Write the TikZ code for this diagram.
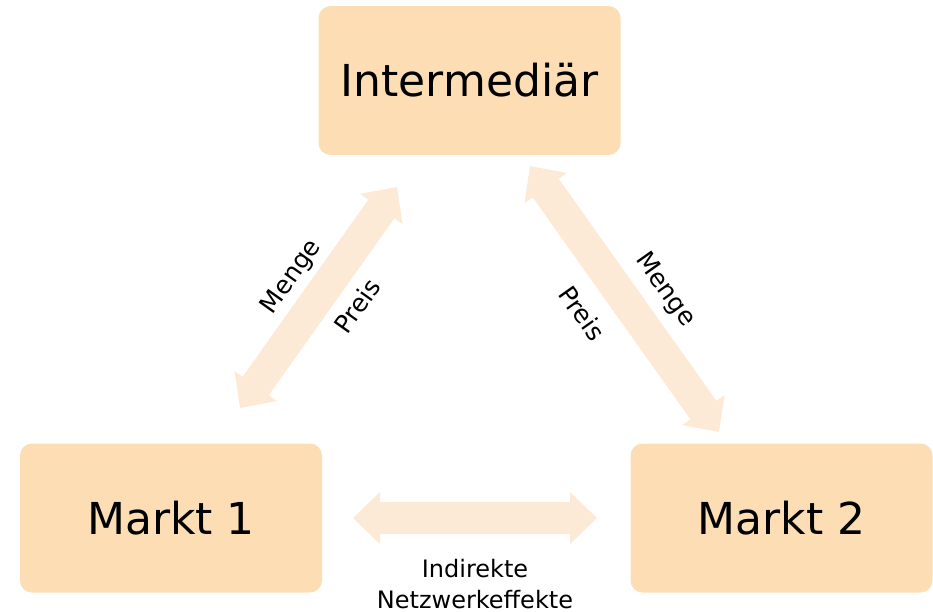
\documentclass[tikz,border=0pt]{standalone}
\usepackage{fontspec}
\setmainfont{DejaVu Sans}
\usetikzlibrary{calc}
\definecolor{boxfill}{RGB}{253,222,180}
\definecolor{arrowfill}{RGB}{253,234,214}
\tikzset{
  box/.style={fill=boxfill, rounded corners=12pt, minimum width=302pt, minimum height=149pt, inner sep=0pt, font=\fontsize{44}{50}\selectfont},
  lbl/.style={font=\fontsize{25}{26}\selectfont, inner sep=0pt},
}
\newcommand\dblarrow[2]{%
  \coordinate (h1) at ($(#1)!27pt!(#2)$);
  \coordinate (h2) at ($(#2)!27pt!(#1)$);
  \fill[arrowfill] (#1) -- ($(h1)!26pt!90:(#2)$) -- ($(h1)!16pt!90:(#2)$)
    -- ($(h2)!16pt!-90:(#1)$) -- ($(h2)!26pt!-90:(#1)$) -- (#2)
    -- ($(h2)!26pt!90:(#1)$) -- ($(h2)!16pt!90:(#1)$)
    -- ($(h1)!16pt!-90:(#2)$) -- ($(h1)!26pt!-90:(#2)$) -- cycle;}
\begin{document}
\begin{tikzpicture}[x=1pt,y=-1pt]
\useasboundingbox (0,0) rectangle (933,611);
\node[box] (inter) at (469.5,80.5) {Intermediär};
\node[box] (m1) at (171,518) {Markt 1};
\node[box] (m2) at (781.5,518) {Markt 2};
\coordinate (la) at (240,408);
\coordinate (lb) at (397,187);
\coordinate (ra) at (530,166);
\coordinate (rb) at (719,432);
\coordinate (ba) at (353,518);
\coordinate (bb) at (597,518);
\dblarrow{la}{lb}
\dblarrow{ra}{rb}
\dblarrow{ba}{bb}
\node[lbl, rotate=54.6] (lm) at (292,277) {Menge};
\node[lbl, rotate=54.6] (lp) at (357,306) {Preis};
\node[lbl, rotate=-54.6] (rp) at (582,313) {Preis};
\node[lbl, rotate=-54.6] (rm) at (665,290) {Menge};
\node[lbl, align=center, anchor=base, font=\fontsize{24}{31}\selectfont] (net) at (475,608) {Indirekte\\Netzwerkeffekte};
\end{tikzpicture}
\end{document}
